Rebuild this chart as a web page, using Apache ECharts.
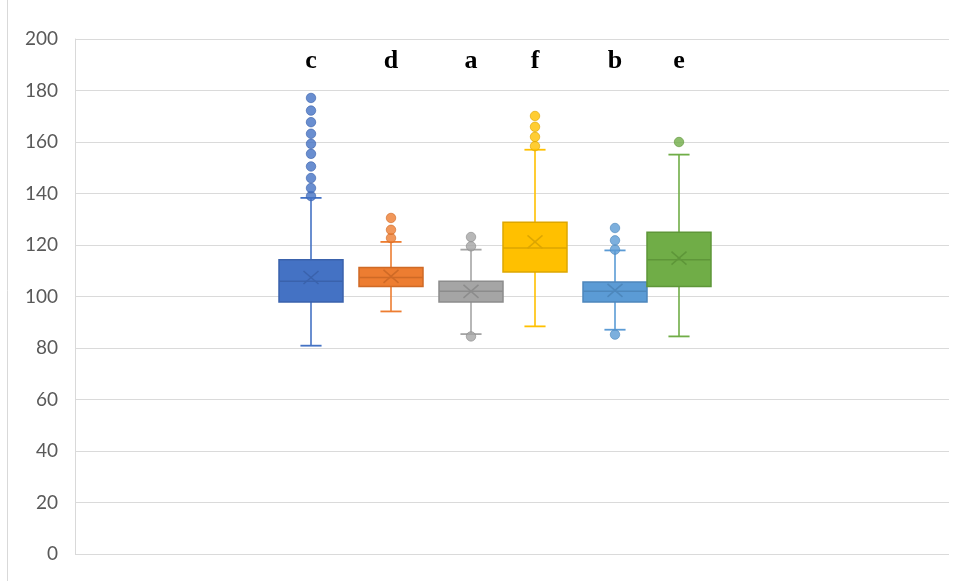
<!DOCTYPE html>
<html>
<head>
<meta charset="utf-8">
<title>Box plot</title>
<script src="https://cdn.jsdelivr.net/npm/echarts@6/dist/echarts.min.js"></script>
<style>
  html, body { margin: 0; padding: 0; background: #ffffff; }
  #chart { width: 957px; height: 581px; }
</style>
</head>
<body>
<div id="chart"></div>
<script>
// Group names, in drawing order
const categories = ['c', 'd', 'a', 'f', 'b', 'e'];
// Horizontal slot of each box on the x scale
const slots = [0, 5, 10, 14, 19, 23];
// Five-number summaries and means
const whiskerLow  = [80.9, 94.2, 85.4, 88.4, 87.1, 84.5];
const quartile1   = [97.9, 103.9, 97.9, 109.5, 97.9, 103.9];
const medians     = [105.9, 107.4, 102.0, 118.8, 102.0, 114.3];
const quartile3   = [114.3, 111.3, 105.9, 128.8, 105.6, 125.0];
const whiskerHigh = [138.3, 121.2, 118.2, 157.0, 117.9, 155.1];
const means       = [107.4, 107.8, 102.0, 121.2, 102.4, 114.9];
// Outlying points per group
const outliersC = [139.0, 142.1, 146.0, 150.5, 155.4, 159.3, 163.2, 167.7, 172.2, 177.1];
const outliersD = [122.7, 125.9, 130.5];
const outliersA = [84.5, 119.5, 123.1];
const outliersF = [158.4, 162.0, 165.9, 170.1];
const outliersB = [85.2, 118.2, 121.8, 126.6];
const outliersE = [160.0];
const outlierGroups = [outliersC, outliersD, outliersA, outliersF, outliersB, outliersE];
// Y axis ticks
const yTicks = [0, 20, 40, 60, 80, 100, 120, 140, 160, 180, 200];
// Height at which group letters sit
const letterLevel = 191.3;

const fills   = ['#4472C4', '#ED7D31', '#A5A5A5', '#FFC000', '#5B9BD5', '#70AD47'];
const borders = ['#3A62AC', '#CF6A26', '#8C8C8C', '#DDA600', '#4D87BC', '#5E9639'];

const boxData = categories.map((name, i) => ({
  name: name,
  value: [slots[i], whiskerLow[i], quartile1[i], medians[i], quartile3[i], whiskerHigh[i], means[i], i]
}));

const outlierSeries = outlierGroups.map((list, i) => ({
  type: 'scatter',
  name: categories[i] + ' outliers',
  data: list.map(v => [slots[i], v]),
  symbol: 'circle',
  symbolSize: 9.5,
  itemStyle: { color: fills[i], borderColor: borders[i], borderWidth: 0.8 },
  z: 3,
  silent: true
}));

function renderBox(params, api) {
  const x = api.value(0);
  const idx = api.value(7);
  const lo = api.coord([x, api.value(1)]);
  const q1 = api.coord([x, api.value(2)]);
  const md = api.coord([x, api.value(3)]);
  const q3 = api.coord([x, api.value(4)]);
  const hi = api.coord([x, api.value(5)]);
  const mn = api.coord([x, api.value(6)]);
  const lab = api.coord([x, letterLevel]);
  const half = api.size([2, 0])[0];
  const cap = api.size([0.66, 0])[0];
  const cx = lo[0];
  const fill = fills[idx];
  const edge = borders[idx];
  const xs = 7.5;
  const ys = 6.5;
  return {
    type: 'group',
    children: [
      { type: 'line', shape: { x1: cx, y1: lo[1], x2: cx, y2: q1[1] }, style: { stroke: fill, lineWidth: 1.6 } },
      { type: 'line', shape: { x1: cx, y1: q3[1], x2: cx, y2: hi[1] }, style: { stroke: fill, lineWidth: 1.6 } },
      { type: 'line', shape: { x1: cx - cap, y1: lo[1], x2: cx + cap, y2: lo[1] }, style: { stroke: fill, lineWidth: 1.8 } },
      { type: 'line', shape: { x1: cx - cap, y1: hi[1], x2: cx + cap, y2: hi[1] }, style: { stroke: fill, lineWidth: 1.8 } },
      { type: 'rect', shape: { x: cx - half, y: q3[1], width: half * 2, height: q1[1] - q3[1] },
        style: { fill: fill, stroke: edge, lineWidth: 1.5 } },
      { type: 'line', shape: { x1: cx - half, y1: md[1], x2: cx + half, y2: md[1] }, style: { stroke: edge, lineWidth: 1.5 } },
      { type: 'line', shape: { x1: cx - xs, y1: mn[1] - ys, x2: cx + xs, y2: mn[1] + ys }, style: { stroke: edge, lineWidth: 1.5 } },
      { type: 'line', shape: { x1: cx - xs, y1: mn[1] + ys, x2: cx + xs, y2: mn[1] - ys }, style: { stroke: edge, lineWidth: 1.5 } },
      { type: 'text', x: lab[0], y: lab[1],
        style: { text: categories[idx], fill: '#000000', font: 'bold 26px "Liberation Serif", "Times New Roman", serif',
                 align: 'center', verticalAlign: 'middle' } }
    ]
  };
}

const chart = echarts.init(document.getElementById('chart'), null, { renderer: 'canvas' });
chart.setOption({
  animation: false,
  backgroundColor: '#ffffff',
  graphic: [
    { type: 'line', shape: { x1: 7.5, y1: 0, x2: 7.5, y2: 581 }, style: { stroke: '#d9d9d9', lineWidth: 1 }, silent: true }
  ],
  grid: { left: 75, right: 8, top: 39, bottom: 27, containLabel: false },
  xAxis: {
    type: 'value',
    min: -14.75,
    max: 39.875,
    show: false
  },
  yAxis: {
    type: 'value',
    min: yTicks[0],
    max: yTicks[yTicks.length - 1],
    interval: 20,
    axisLine: { show: true, onZero: false, lineStyle: { color: '#d9d9d9', width: 1 } },
    axisTick: { show: false },
    axisLabel: {
      color: '#595959',
      fontFamily: 'Lato, "Open Sans", sans-serif',
      fontSize: 19,
      margin: 17,
      formatter: v => yTicks.includes(v) ? String(v) : ''
    },
    splitLine: { show: true, lineStyle: { color: '#dadada', width: 1 } }
  },
  series: [
    {
      type: 'custom',
      name: 'boxes',
      renderItem: renderBox,
      data: boxData,
      encode: { x: 0, y: [1, 2, 3, 4, 5, 6] },
      z: 2,
      silent: true
    }
  ].concat(outlierSeries)
});
</script>
</body>
</html>
